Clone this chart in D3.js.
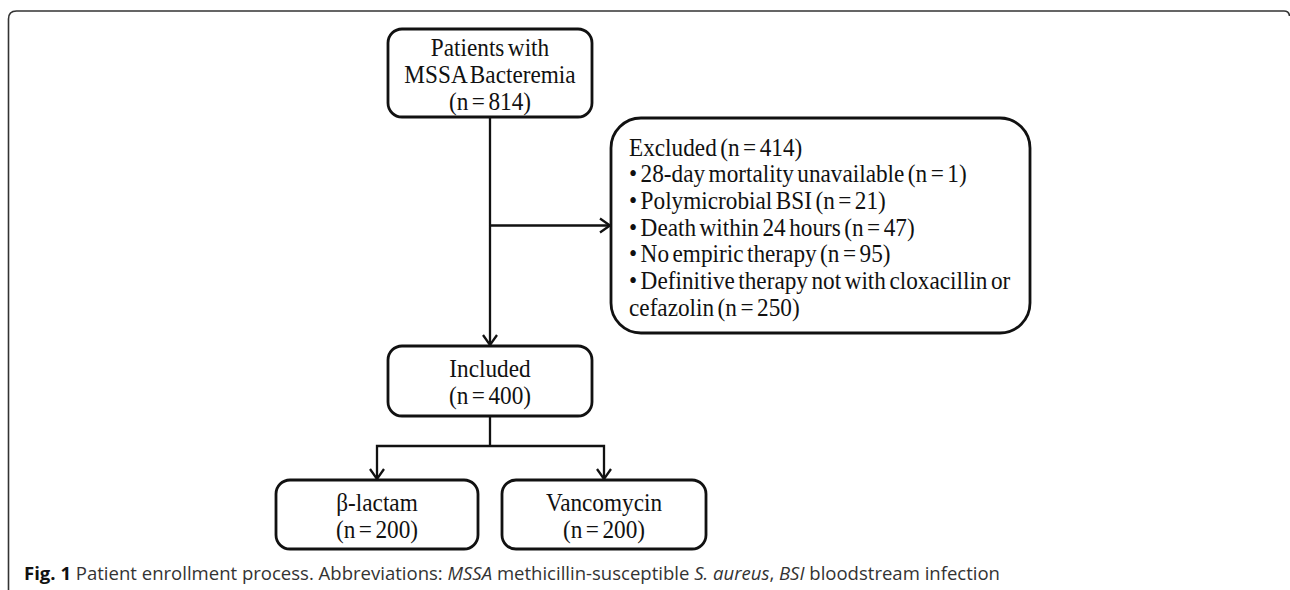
<!DOCTYPE html>
<html lang="en">

<head>
    <meta charset="UTF-8">
    <title>Patient enrollment process</title>
    <script src="https://d3js.org/d3.v7.min.js"></script>
    <style>
        body { margin: 0; background: #fff; }
        .box { fill: #fff; stroke: #111; stroke-width: 2.8px; }
        .link { fill: none; stroke: #111; stroke-width: 2.3px; }
        .label { font-family: "Liberation Serif", "Times New Roman", serif; font-size: 25px; fill: #111; }
        .caption { font-family: "Open Sans", "Noto Sans", sans-serif; font-size: 18.5px; fill: #333; }
    </style>
</head>

<body>
    <svg id="chart"></svg>

    <script>
        const width = 1290;
        const height = 590;

        // flow steps
        const stepIds = ['all', 'excluded', 'included', 'blactam', 'vanco'];
        const stepTitles = [['Patients with', 'MSSA Bacteremia'], ['Excluded'], ['Included'], ['\u03b2-lactam'], ['Vancomycin']];
        const stepCounts = [814, 414, 400, 200, 200];

        // reasons for exclusion
        const exclusionReasons = ['28-day mortality unavailable', 'Polymicrobial BSI', 'Death within 24 hours',
            'No empiric therapy', 'Definitive therapy not with cloxacillin or\ncefazolin'];
        const exclusionCounts = [1, 21, 47, 95, 250];

        const captionParts = [
            { text: 'Fig. 1', weight: 'bold', style: 'normal' },
            { text: ' Patient enrollment process. Abbreviations: ', weight: 'normal', style: 'normal' },
            { text: 'MSSA', weight: 'normal', style: 'italic' },
            { text: ' methicillin-susceptible ', weight: 'normal', style: 'normal' },
            { text: 'S. aureus', weight: 'normal', style: 'italic' },
            { text: ', ', weight: 'normal', style: 'normal' },
            { text: 'BSI', weight: 'normal', style: 'italic' },
            { text: ' bloodstream infection', weight: 'normal', style: 'normal' }
        ];

        // layout of the boxes (pixels)
        const layout = {
            all: { x: 388, y: 29, w: 204, h: 88, r: 14 },
            excluded: { x: 611, y: 118, w: 419, h: 215, r: 30 },
            included: { x: 388, y: 346, w: 204, h: 70, r: 14 },
            blactam: { x: 276, y: 480, w: 202, h: 69, r: 14 },
            vanco: { x: 502, y: 480, w: 204, h: 69, r: 14 }
        };
        const lineGap = 27;
        const squeeze = 0.93; // the serif face in the figure is set slightly narrow

        const svg = d3.select('#chart')
            .attr('width', width)
            .attr('height', height);

        // figure panel frame (open at right/bottom, as in the journal layout)
        svg.append('path')
            .attr('d', 'M8.5,' + (height + 5) + ' L8.5,19 Q8.5,11 16.5,11 L1284,11 Q1289,11 1289.5,16')
            .attr('fill', 'none')
            .attr('stroke', '#333')
            .attr('stroke-width', 1.6);

        const nodes = stepIds.map((id, i) => Object.assign({ id, title: stepTitles[i], n: stepCounts[i] }, layout[id]));
        const byId = Object.fromEntries(nodes.map(d => [d.id, d]));

        svg.selectAll('rect.box')
            .data(nodes)
            .join('rect')
            .attr('class', 'box')
            .attr('x', d => d.x)
            .attr('y', d => d.y)
            .attr('width', d => d.w)
            .attr('height', d => d.h)
            .attr('rx', d => d.r)
            .attr('ry', d => d.r);

        // centred labels for the simple boxes
        nodes.filter(d => d.id !== 'excluded').forEach(d => {
            const lines = d.title.concat(['(n = ' + d.n + ')']);
            const cy = d.y + d.h / 2 + 1;
            const mx = d.x + d.w / 2;
            const t = svg.append('text')
                .attr('class', 'label')
                .attr('text-anchor', 'middle')
                .attr('word-spacing', '-2.5px')
                .attr('transform', `translate(${mx},0) scale(${squeeze},1)`);
            lines.forEach((line, i) => {
                t.append('tspan')
                    .attr('x', 0)
                    .attr('y', cy + (i - (lines.length - 1) / 2) * lineGap)
                    .attr('dominant-baseline', 'central')
                    .text(line);
            });
        });

        // excluded box: left aligned list
        const ex = byId.excluded;
        const exLines = [ex.title[0] + ' (n = ' + ex.n + ')'];
        exclusionReasons.forEach((reason, i) => {
            const parts = reason.split('\n');
            parts.forEach((p, j) => {
                const isLast = j === parts.length - 1;
                const txt = (j === 0 ? '\u2022 ' : '') + p + (isLast ? ' (n = ' + exclusionCounts[i] + ')' : '');
                exLines.push(txt);
            });
        });
        const exText = svg.append('text')
            .attr('class', 'label')
            .attr('word-spacing', '-2.5px')
            .attr('transform', `translate(${ex.x + 18},0) scale(${squeeze},1)`);
        const exGap = 26.7;
        exLines.forEach((line, i) => {
            exText.append('tspan')
                .attr('x', 0)
                .attr('y', ex.y + ex.h / 2 + (i - (exLines.length - 1) / 2) * exGap + 1.5)
                .attr('dominant-baseline', 'central')
                .text(line);
        });

        // connectors
        const all = byId.all, inc = byId.included, bl = byId.blactam, va = byId.vanco;
        const cx = n => n.x + n.w / 2;
        const path = d3.path();
        path.moveTo(cx(all), all.y + all.h);
        path.lineTo(cx(all), inc.y - 1);
        const exY = ex.y + ex.h / 2;
        path.moveTo(cx(all), exY);
        path.lineTo(ex.x - 1, exY);
        const splitY = inc.y + inc.h + 30;
        path.moveTo(cx(inc), inc.y + inc.h);
        path.lineTo(cx(inc), splitY);
        path.moveTo(cx(bl), bl.y - 1);
        path.lineTo(cx(bl), splitY);
        path.lineTo(cx(va), splitY);
        path.lineTo(cx(va), va.y - 1);
        svg.append('path').attr('class', 'link').attr('d', path.toString());

        // open arrowheads
        const heads = [
            { x: cx(all), y: inc.y - 1, dir: 'down' },
            { x: ex.x - 1, y: exY, dir: 'right' },
            { x: cx(bl), y: bl.y - 1, dir: 'down' },
            { x: cx(va), y: va.y - 1, dir: 'down' }
        ];
        svg.selectAll('path.head')
            .data(heads)
            .join('path')
            .attr('class', 'link head')
            .attr('d', d => d.dir === 'down'
                ? `M${d.x - 7},${d.y - 10} L${d.x},${d.y} L${d.x + 7},${d.y - 10}`
                : `M${d.x - 10},${d.y - 7} L${d.x},${d.y} L${d.x - 10},${d.y + 7}`);

        // caption
        const cap = svg.append('text')
            .attr('class', 'caption')
            .attr('x', 24)
            .attr('y', 580);
        cap.selectAll('tspan')
            .data(captionParts)
            .join('tspan')
            .attr('font-weight', d => d.weight)
            .attr('font-style', d => d.style)
            .attr('fill', d => d.weight === 'bold' ? '#111' : '#333')
            .text(d => d.text);
        // the journal caption face is narrow; fit it to the printed width
        cap.attr('textLength', 976).attr('lengthAdjust', 'spacingAndGlyphs');
    </script>
</body>

</html>
